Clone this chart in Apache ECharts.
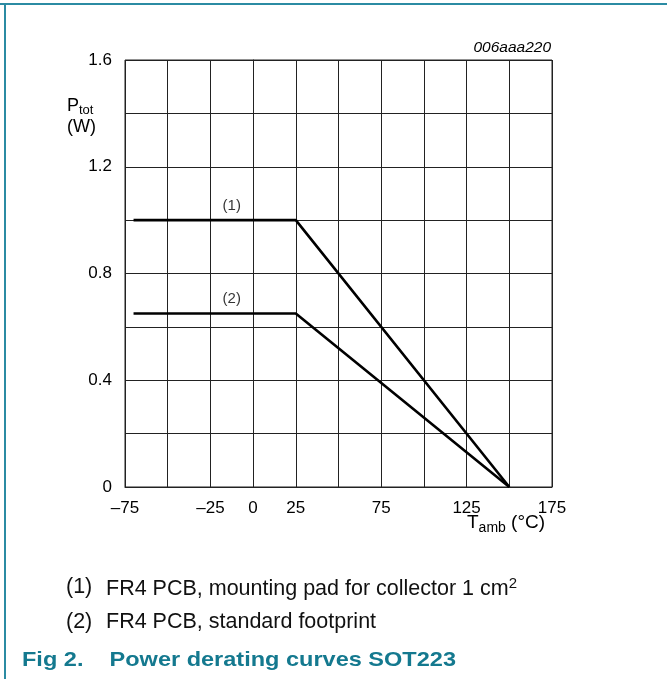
<!DOCTYPE html>
<html><head><meta charset="utf-8">
<script src="https://cdn.jsdelivr.net/npm/echarts@6/dist/echarts.min.js"></script>
<style>html,body{margin:0;padding:0;background:#fff}#c{width:667px;height:679px}</style>
</head><body><div id="c"></div>
<script>
// ---- data ----
const xTickLabels = [-75, -25, 0, 25, 75, 125, 175];
const yTickLabels = [0, 0.4, 0.8, 1.2, 1.6];
const curve1 = [[-70, 1.0], [25, 1.0], [150, 0]];
const curve2 = [[-70, 0.65], [25, 0.65], [150, 0]];
const curveLabels = [[-12.5, 1.055, '(1)'], [-12.5, 0.705, '(2)']];

const chart = echarts.init(document.getElementById('c'), null, {renderer: 'canvas'});
const FONT = 'Liberation Sans, Arial, sans-serif';
const lineStyle = {color: '#000', width: 2.6};
const fmtNum = v => (v < 0 ? '\u2013' + Math.abs(v) : String(v));

chart.setOption({
  animation: false,
  backgroundColor: '#fff',
  grid: {left: 125, right: 115, top: 60, bottom: 192, show: true, borderColor: '#222', borderWidth: 1, backgroundColor: 'transparent'},
  xAxis: {
    type: 'value', min: -75, max: 175, interval: 25,
    axisLine: {show: true, lineStyle: {color: '#222', width: 1}},
    axisTick: {show: false},
    splitLine: {show: true, lineStyle: {color: '#222', width: 1}},
    axisLabel: {
      color: '#000', fontFamily: FONT, fontSize: 17, margin: 13,
      formatter: v => xTickLabels.includes(v) ? fmtNum(v) : ''
    }
  },
  yAxis: {
    type: 'value', min: 0, max: 1.6, interval: 0.2,
    axisLine: {show: true, lineStyle: {color: '#222', width: 1}},
    axisTick: {show: false},
    splitLine: {show: true, lineStyle: {color: '#222', width: 1}},
    axisLabel: {
      color: '#000', fontFamily: FONT, fontSize: 17, margin: 13,
      formatter: v => yTickLabels.some(t => Math.abs(t - v) < 1e-9) ? String(Math.round(v * 10) / 10) : ''
    }
  },
  series: [
    {type: 'line', data: curve1, symbol: 'none', lineStyle: lineStyle, z: 5},
    {type: 'line', data: curve2, symbol: 'none', lineStyle: lineStyle, z: 5},
    {type: 'scatter', data: curveLabels, symbolSize: 0, z: 6,
     label: {show: true, position: 'inside', formatter: p => p.data[2], color: '#000', fontFamily: FONT, fontSize: 15}}
  ],
  graphic: [
    {type: 'rect', shape: {x: 0, y: 3, width: 667, height: 2}, style: {fill: '#2b8ba3'}},
    {type: 'rect', shape: {x: 4, y: 3, width: 2, height: 676}, style: {fill: '#2b8ba3'}},
    {type: 'text', x: 551, y: 40, style: {text: '006aaa220', font: 'italic 15.5px ' + FONT, fill: '#000', align: 'right', verticalAlign: 'top'}},
    {type: 'text', x: 67, y: 95, style: {
      text: '{a|P}{s|tot}\n{a|(W)}', align: 'left', verticalAlign: 'top',
      rich: {a: {fontFamily: FONT, fontSize: 18, fill: '#000', lineHeight: 21}, s: {fontFamily: FONT, fontSize: 13, fill: '#000', padding: [9, 0, 0, 0]}}
    }},
    {type: 'text', x: 467, y: 511, style: {
      text: '{a|T}{s|amb}{a| (\u00b0C)}', align: 'left', verticalAlign: 'top',
      rich: {a: {fontFamily: FONT, fontSize: 19, fill: '#000'}, s: {fontFamily: FONT, fontSize: 14, fill: '#000', padding: [10, 0, 0, 0]}}
    }},
    {type: 'text', x: 66, y: 576, style: {text: '(1)', font: '21.5px ' + FONT, fill: '#111', verticalAlign: 'top'}},
    {type: 'text', x: 106, y: 576, style: {
      text: '{a|FR4 PCB, mounting pad for collector 1 cm}{p|2}', verticalAlign: 'top',
      rich: {a: {fontFamily: FONT, fontSize: 21.5, fill: '#111'}, p: {fontFamily: FONT, fontSize: 15, fill: '#111', padding: [0, 0, 12, 0]}}
    }},
    {type: 'text', x: 66, y: 611, style: {text: '(2)', font: '21.5px ' + FONT, fill: '#111', verticalAlign: 'top'}},
    {type: 'text', x: 106, y: 611, style: {text: 'FR4 PCB, standard footprint', font: '21.5px ' + FONT, fill: '#111', verticalAlign: 'top'}},
    {type: 'text', x: 22, y: 650, scaleX: 1.12, style: {text: 'Fig 2.    Power derating curves SOT223', font: 'bold 21px ' + FONT, fill: '#14798f', verticalAlign: 'top'}}
  ]
});
</script></body></html>
